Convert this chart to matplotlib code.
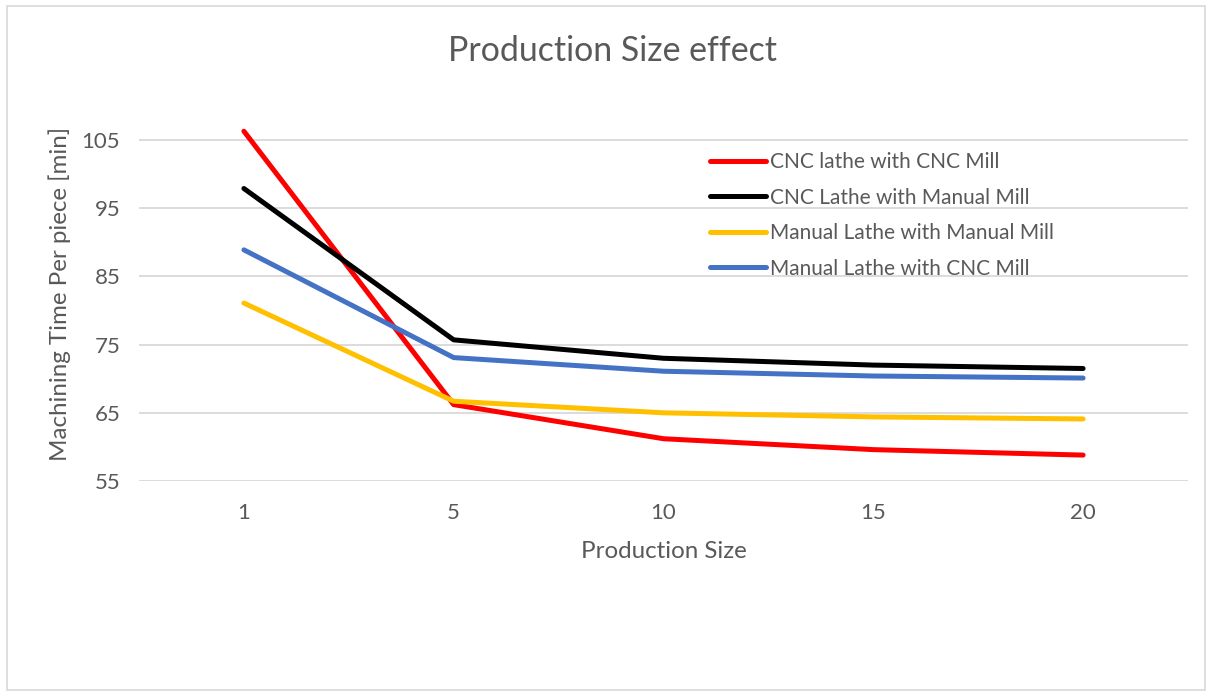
import matplotlib
matplotlib.use("Agg")
import matplotlib.pyplot as plt
from matplotlib.patches import Rectangle

# data
sizes = ["1", "5", "10", "15", "20"]
cnc_cnc = [106.3, 66.2, 61.2, 59.6, 58.8]
cnc_manual = [97.9, 75.7, 73.0, 72.0, 71.5]
manual_manual = [81.1, 66.7, 65.0, 64.4, 64.1]
manual_cnc = [88.9, 73.1, 71.1, 70.4, 70.1]

series = [
    ("CNC lathe with CNC Mill", cnc_cnc, "#FF0000"),
    ("CNC Lathe with Manual Mill", cnc_manual, "#000000"),
    ("Manual Lathe with Manual Mill", manual_manual, "#FFC000"),
    ("Manual Lathe with CNC Mill", manual_cnc, "#4472C4"),
]
yticks = [55, 65, 75, 85, 95, 105]

plt.rcParams['font.family'] = ['Lato', 'DejaVu Sans']
txt = "#595959"
grid = "#D9D9D9"

fig = plt.figure(figsize=(12.12, 6.96), dpi=100)
fig.patches.append(Rectangle((0.006, 0.008), 0.988, 0.983, transform=fig.transFigure,
                             fill=False, edgecolor="#D9D9D9", linewidth=1.2))

ax = fig.add_axes([139 / 1212, 1 - 481 / 696, (1188 - 139) / 1212, 375 / 696])
x = range(len(sizes))
for name, vals, col in series:
    ax.plot(x, vals, color=col, linewidth=3.6, label=name, solid_capstyle="round",
            solid_joinstyle="round")

ax.set_xlim(-0.5, len(sizes) - 0.5)
ax.set_ylim(55, 110)
ax.set_yticks(yticks)
ax.set_xticks(list(x))
ax.set_xticklabels(sizes)
ax.yaxis.grid(True, color=grid, linewidth=1.3)
ax.set_axisbelow(True)
for s in ax.spines.values():
    s.set_visible(False)
ax.tick_params(length=0, labelsize=16, colors=txt)
ax.tick_params(axis="y", pad=13.5)
ax.tick_params(axis="x", pad=15.5)

ax.set_xlabel("Production Size", fontsize=17.4, color=txt, labelpad=13)
ax.set_ylabel("Machining Time Per piece [min]", fontsize=17.4, color=txt, labelpad=8)
fig.text(0.505, 0.927, "Production Size effect", ha="center", va="center",
         fontsize=24.4, color=txt)

leg = ax.legend(loc="upper left", bbox_to_anchor=(0.526, 0.927), frameon=False,
                fontsize=15, handlelength=2.7, handletextpad=0.2, labelspacing=0.745)
for t in leg.get_texts():
    t.set_color(txt)

fig.savefig("out.png", dpi=100, facecolor="white")
